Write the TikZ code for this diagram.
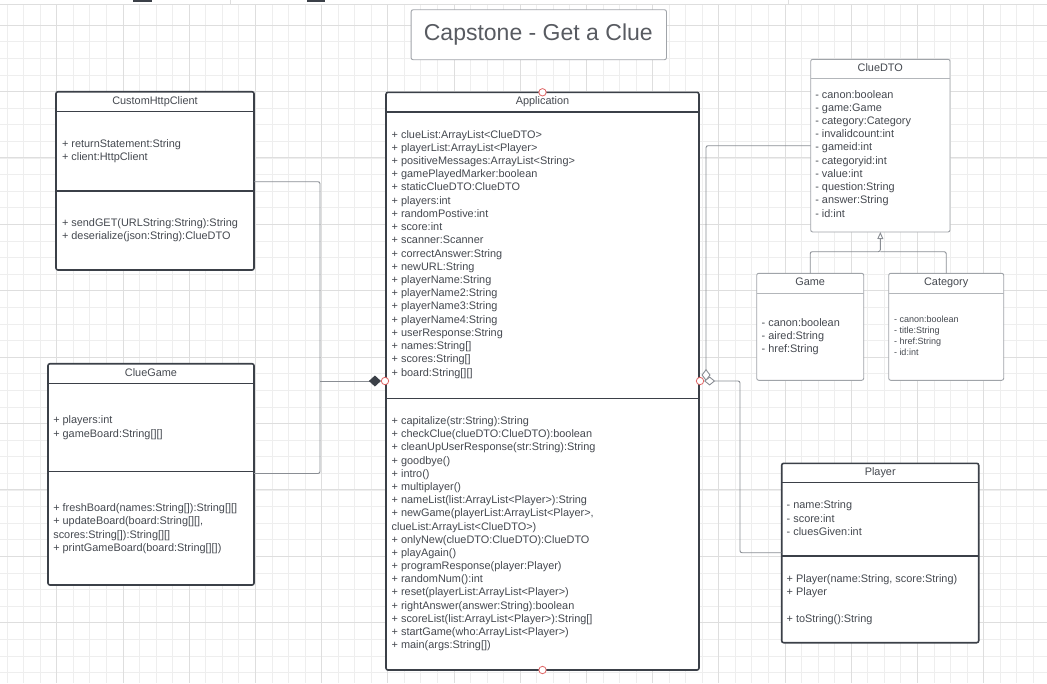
\documentclass[tikz,border=0pt]{standalone}
\usepackage{fontspec}
\setmainfont{Liberation Sans}
\usetikzlibrary{arrows.meta}

\definecolor{ink}{HTML}{454950}
\definecolor{frame}{HTML}{3B4048}
\definecolor{softframe}{HTML}{A0A4A9}
\definecolor{wire}{HTML}{8A8E94}
\definecolor{portred}{HTML}{E06464}
\definecolor{gridminor}{HTML}{EEEEEE}
\definecolor{gridmajor}{HTML}{DEDEDE}

% one text row per entry, baselines spaced evenly
\newcommand\classlines[5]{%
  \foreach \rowtxt [count=\rowno] in {#5}{%
    \node[rowtext, anchor=base west] (#1\rowno) at (#2,{#3+(\rowno-1)*#4}) {\rowtxt};}}

\begin{document}
\begin{tikzpicture}[x=1pt, y=-1pt,
  rowtext/.style={font=\fontsize{10.9}{13}\selectfont, text=ink, inner sep=0pt, outer sep=0pt},
  rowsmall/.style={font=\fontsize{9}{11}\selectfont, text=ink, inner sep=0pt, outer sep=0pt},
  classtitle/.style={font=\fontsize{10.9}{13}\selectfont, text=ink, inner sep=0pt, anchor=base},
  darkbox/.style={draw=frame, line width=1.6pt, fill=white, rounded corners=2pt, anchor=north west, inner sep=0pt, outer sep=0pt},
  softbox/.style={draw=softframe, line width=0.9pt, fill=white, rounded corners=2pt, anchor=north west, inner sep=0pt, outer sep=0pt},
  headingbox/.style={draw=softframe, line width=0.9pt, fill=white, rounded corners=2pt, anchor=north west, inner sep=0pt},
  darkrule/.style={draw=frame, line width=1.4pt},
  softrule/.style={draw=softframe!80, line width=1.2pt},
  conn/.style={draw=wire, line width=0.9pt, rounded corners=2pt},
  port/.style={circle, draw=portred, line width=0.8pt, fill=white, minimum size=7.4pt, inner sep=0pt}]

\useasboundingbox (0,0) rectangle (1047,683);
\fill[white] (0,0) rectangle (1047,683);

% background grid
\foreach \k in {0,...,62} \draw[gridminor, line width=0.6pt] ({7+16.55*\k},5) -- ({7+16.55*\k},683);
\foreach \k in {1,...,40} \draw[gridminor, line width=0.6pt] (0,{8.4+16.6*\k}) -- (1047,{8.4+16.6*\k});
\foreach \k in {0,...,14} \draw[gridmajor, line width=0.7pt] ({56.7+66.2*\k},5) -- ({56.7+66.2*\k},683);
\foreach \k in {0,...,9} \draw[gridmajor, line width=0.7pt] (0,{25+66.4*\k}) -- (1047,{25+66.4*\k});

% toolbar strip along the top edge
\draw[gridmajor, line width=0.7pt] (0,4.7) -- (1047,4.7);
\draw[gridmajor, line width=0.7pt] (230,0) -- (230,4.7);
\draw[gridmajor, line width=0.7pt] (788,0) -- (788,4.7);
\fill[frame] (133.3,0) rectangle (152.3,1.6);
\fill[frame] (306.7,0) rectangle (325,1.6);

% heading
\node[headingbox, minimum width=255.3pt, minimum height=50pt] (heading) at (410.7,9.3) {};
\node[font=\fontsize{23}{26}\selectfont, text=ink!90, anchor=base, inner sep=0pt] (headingtext) at (538.3,40.3) {Capstone - Get a Clue};

% class boxes
\node[darkbox, minimum width=198pt, minimum height=178.3pt] (custom) at (56,91.7) {};
\node[darkbox, minimum width=206pt, minimum height=221.3pt] (cluegame) at (48,363.7) {};
\node[darkbox, minimum width=313pt, minimum height=577.7pt] (app) at (386,92.3) {};
\node[softbox, minimum width=139.3pt, minimum height=172.7pt] (dto) at (810.7,59.3) {};
\node[softbox, minimum width=107pt, minimum height=107pt] (game) at (756.7,273.3) {};
\node[softbox, minimum width=115pt, minimum height=107pt] (cat) at (888.7,273.3) {};
\node[darkbox, minimum width=197pt, minimum height=179.4pt] (player) at (781.7,463.3) {};

% compartment rules
\draw[darkrule] (56,111.7) -- (254,111.7);
\draw[darkrule] (56,191) -- (254,191);
\draw[darkrule] (48,383.7) -- (254,383.7);
\draw[darkrule] (48,471.3) -- (254,471.3);
\draw[darkrule] (386,112) -- (699,112);
\draw[darkrule] (386,398.3) -- (699,398.3);
\draw[softrule] (810.7,78.7) -- (950,78.7);
\draw[softrule] (756.7,293.3) -- (863.7,293.3);
\draw[softrule] (888.7,293.3) -- (1003.7,293.3);
\draw[darkrule] (781.7,482.7) -- (978.7,482.7);
\draw[darkrule] (781.7,556) -- (978.7,556);

% CustomHttpClient
\node[classtitle] (customT) at (155,104.1) {CustomHttpClient};
\classlines{customA}{62}{147.5}{13.3}{{+ returnStatement:String},{+ client:HttpClient}}
\classlines{customM}{62}{226.5}{13.3}{{+ sendGET(URLString:String):String},{+ deserialize(json:String):ClueDTO}}

% ClueGame
\node[classtitle] (cluegameT) at (151,376.1) {ClueGame};
\classlines{cluegameA}{53.3}{423.5}{14}{{+ players:int},{+ gameBoard:String[][]}}
\classlines{cluegameM}{53.3}{511.5}{13.35}{{+ freshBoard(names:String[]):String[][]},{+ updateBoard(board:String[][],},{scores:String[]):String[][]},{+ printGameBoard(board:String[][])}}

% Application
\node[classtitle] (appT) at (542.5,104.5) {Application};
\classlines{appA}{391.7}{138.1}{13.22}{{+ clueList:ArrayList<ClueDTO>},{+ playerList:ArrayList<Player>},{+ positiveMessages:ArrayList<String>},{+ gamePlayedMarker:boolean},{+ staticClueDTO:ClueDTO},{+ players:int},{+ randomPostive:int},{+ score:int},{+ scanner:Scanner},{+ correctAnswer:String},{+ newURL:String},{+ playerName:String},{+ playerName2:String},{+ playerName3:String},{+ playerName4:String},{+ userResponse:String},{+ names:String[]},{+ scores:String[]},{+ board:String[][]}}
\classlines{appM}{391.7}{424.5}{13.19}{{+ capitalize(str:String):String},{+ checkClue(clueDTO:ClueDTO):boolean},{+ cleanUpUserResponse(str:String):String},{+ goodbye()},{+ intro()},{+ multiplayer()},{+ nameList(list:ArrayList<Player>):String},{+ newGame(playerList:ArrayList<Player>,},{clueList:ArrayList<ClueDTO>)},{+ onlyNew(clueDTO:ClueDTO):ClueDTO},{+ playAgain()},{+ programResponse(player:Player)},{+ randomNum():int},{+ reset(playerList:ArrayList<Player>)},{+ rightAnswer(answer:String):boolean},{+ scoreList(list:ArrayList<Player>):String[]},{+ startGame(who:ArrayList<Player>)},{+ main(args:String[])}}

% ClueDTO
\node[classtitle] (dtoT) at (880.3,71.1) {ClueDTO};
\classlines{dtoA}{815.3}{98.1}{13.22}{{- canon:boolean},{- game:Game},{- category:Category},{- invalidcount:int},{- gameid:int},{- categoryid:int},{- value:int},{- question:String},{- answer:String},{- id:int}}

% Game
\node[classtitle] (gameT) at (810.2,285.5) {Game};
\classlines{gameA}{761.7}{326.1}{13.3}{{- canon:boolean},{- aired:String},{- href:String}}

% Category
\node[classtitle] (catT) at (946.2,285.8) {Category};
\foreach \rowtxt [count=\rowno] in {{- canon:boolean},{- title:String},{- href:String},{- id:int}}
  \node[rowsmall, anchor=base west] (catA\rowno) at (894,{322.1+(\rowno-1)*11}) {\rowtxt};

% Player
\node[classtitle] (playerT) at (880.2,475.1) {Player};
\classlines{playerA}{786.7}{508.8}{13.2}{{- name:String},{- score:int},{- cluesGiven:int}}
\classlines{playerM}{786.7}{582.5}{13.3}{{+ Player(name:String, score:String)},{+ Player}}
\node[rowtext, anchor=base west] (playerM3) at (786.7,622.1) {+ toString():String};

% connection points on the Application box
\node[port] (appNp) at (542.5,92.3) {};
\node[port] (appSp) at (542.5,670) {};
\node[port] (appWp) at (385,381) {};
\node[port] (appEp) at (700,381) {};

% attachment points on box edges and junctions
\coordinate (customE) at (254,181.7);
\coordinate (cluegameE) at (254,473.5);
\coordinate (jL) at (320,381);
\coordinate (dtoW) at (810.7,145.7);
\coordinate (jR1) at (706,381);
\coordinate (playerW) at (781.7,552.7);
\coordinate (jR2) at (740,381);
\coordinate (gj) at (880.3,251.7);

% composition: helper classes into Application
\draw[conn] (customE) -| (jL) |- (cluegameE);
\draw[conn, -{Diamond[length=12pt, width=11pt, fill=frame, color=frame]}] (jL) -- (appWp.west);

% aggregation: ClueDTO and Player into Application
\draw[conn, -{Diamond[length=12pt, width=9pt, fill=white]}] (dtoW) -| (jR1);
\draw[conn, -{Diamond[length=11pt, width=9pt, fill=white]}] (playerW) -| (jR2) -- (appEp.east);

% generalisation: Game and Category under ClueDTO
\draw[conn, -{Triangle[length=7pt, width=6pt, fill=white]}] (game.north) |- (gj) -- (dto.south);
\draw[conn] (cat.north) |- (gj);
\end{tikzpicture}
\end{document}
